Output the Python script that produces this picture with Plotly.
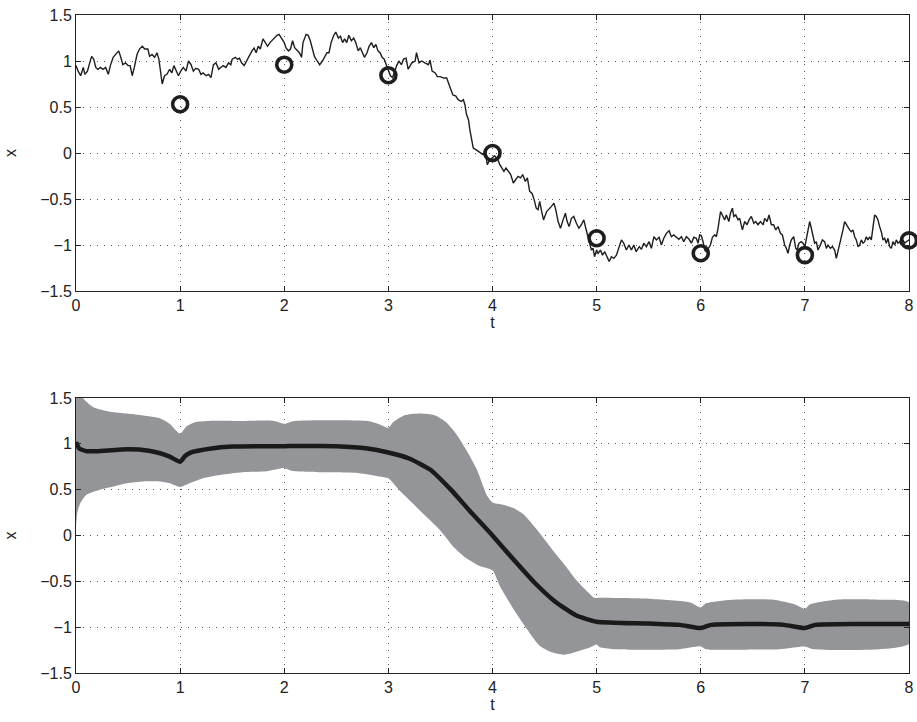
import plotly.graph_objects as go
from plotly.subplots import make_subplots

# ---------------- data ----------------
# noisy trajectory (top panel), read off in segments
path_t_a = [0, .02, .045, .07, .085, .11, .127, .15, .17, .19, .21, .235, .26, .285, .31, .33, .357, .38, .41, .43,
            .45, .475, .5, .52, .54, .56, .586, .61, .637, .66, .69, .707, .73, .755, .777, .796, .81, .828, .85, .873,
            .9, .92, .94, .96, .984, 1.006, 1.03, 1.057, 1.08, 1.105, 1.127, 1.15, 1.178, 1.2, 1.22, 1.25, 1.274, 1.296,
            1.32, 1.344, 1.37, 1.39, 1.414, 1.44, 1.465, 1.487, 1.5, 1.53, 1.55, 1.57, 1.59, 1.615, 1.637, 1.66, 1.69,
            1.71, 1.73, 1.75, 1.77, 1.796, 1.815, 1.84]
path_x_a = [.95, .89, .84, .93, .855, .89, .96, 1.05, 1.02, .93, .91, .93, .91, .93, .855, .95, 1.04, 1.07, 1.11, 1.04,
            .96, .98, .95, .95, .84, .93, 1.07, 1.13, 1.16, 1.13, 1.13, 1.05, 1.07, 1.04, 1.09, 1.02, .89, .75, .84, .855,
            .91, .87, .95, .89, .84, .89, .93, .89, 1.0, .96, .89, .92, .91, .855, .87, .84, .855, .82,
            .96, .98, .91, .93, .95, .93, .98, .96, 1.02, 1.04, 1.02, 1.03, .98, .95, 1.0, 1.04, 1.11,
            1.14, 1.09, 1.16, 1.13, 1.24, 1.2, 1.16]
path_t_b = [1.863, 1.895, 1.93, 1.95, 1.975, 2.0, 2.016, 2.04, 2.06, 2.08, 2.1, 2.125, 2.145, 2.166, 2.18, 2.21, 2.23,
            2.25, 2.27, 2.29, 2.316, 2.34, 2.367, 2.39, 2.41, 2.43, 2.45, 2.476, 2.495, 2.52, 2.54, 2.56, 2.58, 2.6,
            2.62, 2.645, 2.667, 2.687, 2.71, 2.73, 2.75, 2.77, 2.795, 2.815, 2.837, 2.86, 2.88, 2.9, 2.92, 2.94, 2.96,
            2.98, 3.0, 3.02, 3.04, 3.06, 3.08, 3.1, 3.125, 3.146]
path_x_b = [1.2, 1.24, 1.28, 1.29, 1.25, 1.2, 1.145, 1.11, 1.13, 1.22, 1.145, 1.11, 1.09, 1.04, 1.2, 1.29, 1.28,
            1.22, 1.13, 1.05, 1.0, .96, 1.0, 1.05, 1.09, 1.09, 1.2, 1.28, 1.315, 1.25, 1.27, 1.2, 1.24, 1.2,
            1.28, 1.22, 1.25, 1.2, 1.11, 1.145, 1.09, 1.04, 1.09, 1.16, 1.2, 1.145, 1.18, 1.11, 1.09, 1.04, 1.02,
            .96, .89, .84, .82, .89, .95, 1.0, .96, 1.02]
path_t_c = [3.17, 3.19, 3.225, 3.257, 3.27, 3.295, 3.32, 3.35, 3.385, 3.4, 3.42, 3.45, 3.47, 3.5, 3.53, 3.56, 3.575,
            3.6, 3.62, 3.646, 3.67, 3.7, 3.72, 3.735, 3.75, 3.77, 3.78, 3.8, 3.815, 3.84, 3.86, 3.89, 3.91, 3.93, 3.95,
            3.975, 4.0, 4.02, 4.05, 4.07, 4.09, 4.11, 4.13, 4.156, 4.175, 4.2, 4.22, 4.245, 4.27, 4.29, 4.315, 4.335,
            4.357, 4.38, 4.4, 4.42, 4.437, 4.453, 4.475]
path_x_c = [1.03, .91, .98, 1.0, 1.09, .98, 1.0, .98, .96, 1.01, .89, .87, .83, .83, .815, .815, .76,
            .69, .63, .62, .58, .56, .58, .525, .42, .36, .27, .16, .054, .036, .018, 0, -.018, .018, -.127,
            -.07, -.054, -.03, -.07, -.127, -.163, -.2, -.163, -.2, -.235, -.326, -.29, -.254, -.27, -.235, -.31, -.27,
            -.417, -.44, -.507, -.6, -.616, -.525, -.65]
path_t_d = [4.49, 4.52, 4.544, 4.566, 4.59, 4.608, 4.63, 4.653, 4.678, 4.7, 4.717, 4.736, 4.758, 4.78, 4.806, 4.83,
            4.854, 4.877, 4.896, 4.918, 4.934, 4.95, 4.966, 4.98, 5.0, 5.014, 5.037, 5.056, 5.078, 5.1, 5.12, 5.142,
            5.165, 5.19, 5.216, 5.238, 5.26, 5.286, 5.31, 5.334, 5.357, 5.38, 5.41, 5.43, 5.453, 5.478, 5.504, 5.526,
            5.55, 5.574, 5.6, 5.622, 5.645, 5.67, 5.696, 5.718, 5.74, 5.766, 5.79, 5.814, 5.837, 5.862, 5.888, 5.91,
            5.933, 5.958, 5.974, 5.99]
path_x_d = [-.727, -.636, -.6, -.58, -.545, -.618, -.745, -.818, -.727, -.655, -.745, -.8, -.71, -.69, -.764, -.818,
            -.78, -.727, -.818, -.91, -.98, -1.055, -1.036, -1.127, -1.055, -1.09, -1.055, -1.11, -1.073, -1.127, -1.18, -1.127,
            -1.145, -1.11, -1.018, -.945, -.98, -1.055, -1.0, -1.055, -1.0, -1.073, -1.018, -1.047, -.98, -1.018, -.964, -1.036,
            -.91, -.945, -.916, -1.0, -.927, -.873, -.844, -.91, -.89, -.916, -.938, -.91, -.964, -.91, -.938, -.98,
            -.916, -.927, -.98, -.89]
path_t_e = [6.006, 6.022, 6.038, 6.054, 6.07, 6.093, 6.112, 6.134, 6.15, 6.166, 6.19, 6.208, 6.23, 6.246, 6.27,
            6.285, 6.304, 6.317, 6.336, 6.358, 6.374, 6.4, 6.422, 6.445, 6.464, 6.486, 6.51, 6.528, 6.55, 6.573,
            6.6, 6.614, 6.637, 6.656, 6.678, 6.7, 6.72, 6.742, 6.765, 6.784, 6.806, 6.822, 6.838, 6.854, 6.87,
            6.893, 6.912, 6.925, 6.944, 6.966, 6.982, 7.0, 7.014, 7.03, 7.046, 7.062, 7.078, 7.094, 7.11, 7.126,
            7.142, 7.168, 7.19, 7.206, 7.222, 7.245, 7.264, 7.286, 7.302, 7.318, 7.334, 7.35, 7.366, 7.382, 7.398,
            7.414, 7.43, 7.446, 7.462, 7.478, 7.494, 7.51, 7.526, 7.542, 7.558, 7.574, 7.59, 7.606, 7.622, 7.638,
            7.654, 7.67, 7.686, 7.702, 7.718, 7.734, 7.75, 7.766, 7.782, 7.798, 7.814, 7.83, 7.846, 7.862, 7.878,
            7.894, 7.91, 7.926, 7.942, 7.958, 7.974, 8.0]
path_x_e = [-.9, -.964, -1.055, -1.073, -1.036, -1.0, -.916, -.89, -.91, -.818, -.636, -.673, -.727, -.673, -.745,
            -.655, -.6, -.69, -.673, -.727, -.71, -.836, -.745, -.78, -.727, -.69, -.764, -.745, -.78, -.745,
            -.78, -.71, -.745, -.673, -.78, -.78, -.836, -.8, -.873, -.89, -1.0, -1.036, -1.09, -1.0, -.945,
            -.91, -1.036, -1.055, -.98, -.964, -.98, -1.018, -.945, -.836, -.745, -.818, -.91, -.98, -.964, -1.055,
            -1.018, -.945, -.964, -1.036, -1.0, -1.036, -1.018, -1.055, -1.145, -1.073, -1.0, -.927, -.836, -.745, -.78,
            -.818, -.836, -.855, -.836, -.91, -.945, -1.018, -1.0, -.945, -.98, -.964, -.91, -.945, -.91, -.945,
            -.78, -.673, -.69, -.727, -.8, -.855, -.945, -.927, -.98, -.927, -1.018, -1.036, -.964, -1.0, -.945,
            -.98, -.964, -1.0, -.945, -.98, -.964, -.945]

# observations (circles)
obs_t = [1, 2, 3, 4, 5, 6, 7, 8]
obs_x = [0.53, 0.96, 0.845, 0.0, -0.927, -1.09, -1.11, -0.95]

# posterior mean and band (bottom panel)
mean_t = [0, 0.03, 0.1, 0.2, 0.5, 0.7, 0.8, 0.9, 1.0, 1.05, 1.1, 1.3, 1.5, 2.0, 2.5, 2.8, 3.0, 3.2, 3.4, 3.6,
          3.8, 4.0, 4.2, 4.4, 4.6, 4.8, 5.0, 5.5, 5.8, 6.0, 6.1, 6.5, 6.8, 7.0, 7.1, 7.5, 8.0]
mean_x = [1.02, .95, .92, .92, .94, .925, .9, .86, .805, .87, .905, .95, .97, .975, .975, .95, .905, .84, .72, .5,
          .245, 0, -.26, -.51, -.72, -.87, -.94, -.96, -.975, -1.01, -.975, -.965, -.975, -1.01, -.975, -.965, -.965]
upper_t = [0, .086, .166, .33, .49, .645, .805, .9, 1.0, 1.06, 1.16, 1.28, 1.5, 1.9, 2.0, 2.1, 2.8, 2.9, 3.0, 3.05,
           3.15, 3.3, 3.45, 3.55, 3.65, 3.75, 3.85, 3.95, 4.0, 4.1, 4.2, 4.3, 4.4, 4.5, 4.6, 4.7, 4.8, 4.9, 4.98, 5.05,
           5.5, 5.9, 6.0, 6.05, 6.3, 6.7, 6.9, 7.0, 7.05, 7.3, 7.7, 8.0]
upper_x = [1.6, 1.475, 1.4, 1.35, 1.33, 1.31, 1.28, 1.22, 1.11, 1.19, 1.24, 1.25, 1.25, 1.25, 1.22, 1.25, 1.25, 1.22, 1.175, 1.24,
           1.31, 1.33, 1.31, 1.24, 1.11, .93, .72, .43, .36, .336, .3, .23, .1, -.043, -.19, -.33, -.48, -.6, -.68, -.68,
           -.69, -.73, -.785, -.74, -.7, -.7, -.75, -.8, -.75, -.7, -.7, -.73]
lower_t = [0, .013, .04, .1, .23, .36, .49, .645, .8, .9, 1.0, 1.09, 1.22, 1.38, 1.6, 1.83, 2.0, 2.08, 2.4, 2.72,
           2.91, 3.0, 3.1, 3.23, 3.36, 3.49, 3.62, 3.74, 3.87, 4.0, 4.07, 4.2, 4.33, 4.45, 4.55, 4.68, 4.8, 4.94, 5.0, 5.03,
           5.16, 5.48, 5.8, 6.0, 6.05, 6.44, 6.76, 7.0, 7.08, 7.72, 8.0]
lower_x = [.1, .25, .35, .445, .5, .535, .57, .59, .59, .57, .53, .57, .625, .66, .69, .7, .735, .705, .69, .68,
           .645, .625, .5, .355, .21, .065, -.116, -.24, -.33, -.38, -.55, -.8, -1.02, -1.2, -1.265, -1.3, -1.27, -1.22, -1.19, -1.22,
           -1.24, -1.245, -1.24, -1.21, -1.24, -1.245, -1.24, -1.21, -1.24, -1.24, -1.18]

x_ticks = [0, 1, 2, 3, 4, 5, 6, 7, 8]
y_ticks = [-1.5, -1, -0.5, 0, 0.5, 1, 1.5]
y_tick_labels = ["\u22121.5", "\u22121", "\u22120.5", "0", "0.5", "1", "1.5"]

path_t = path_t_a + path_t_b + path_t_c + path_t_d + path_t_e
path_x = path_x_a + path_x_b + path_x_c + path_x_d + path_x_e
assert len(path_t) == len(path_x)
assert len(mean_t) == len(mean_x) and len(upper_t) == len(upper_x) and len(lower_t) == len(lower_x)

# ---------------- figure ----------------
fig = make_subplots(rows=2, cols=1, vertical_spacing=0.16)

fig.add_trace(go.Scatter(x=path_t, y=path_x, mode="lines",
                         line=dict(color="#1e1e1e", width=1.4), showlegend=False), row=1, col=1)
fig.add_trace(go.Scatter(x=obs_t, y=obs_x, mode="markers",
                         marker=dict(symbol="circle-open", size=15, color="#1e1e1e", line=dict(width=3.6)),
                         cliponaxis=False, showlegend=False), row=1, col=1)

band_t = upper_t + lower_t[::-1]
band_x = upper_x + lower_x[::-1]
fig.add_trace(go.Scatter(x=band_t, y=band_x, mode="lines", fill="toself",
                         fillcolor="#949598", line=dict(width=0, color="#949598", shape="spline", smoothing=0.6),
                         showlegend=False), row=2, col=1)
fig.add_trace(go.Scatter(x=mean_t, y=mean_x, mode="lines",
                         line=dict(color="#1a1a1a", width=4.5, shape="spline", smoothing=0.5),
                         showlegend=False), row=2, col=1)

font = dict(family="Liberation Sans, Arial, sans-serif", size=16, color="#222")
axis_common = dict(showline=True, linecolor="#222", linewidth=1, mirror="allticks",
                   ticks="inside", ticklen=5, tickcolor="#222",
                   showgrid=True, gridcolor="#555", gridwidth=1, griddash="1px,6px",
                   zeroline=False, tickfont=font, automargin=False)

for r in (1, 2):
    fig.update_xaxes(range=[0, 8], tickvals=x_ticks, ticktext=[str(v) for v in x_ticks],
                     title=dict(text="t", font=font, standoff=0), row=r, col=1, **axis_common)
    fig.update_yaxes(range=[-1.5, 1.5], tickvals=y_ticks, ticktext=y_tick_labels,
                     title=dict(text="x", font=font, standoff=19), row=r, col=1, **axis_common)

fig.update_layout(
    width=917, height=722,
    margin=dict(l=76, r=8, t=15, b=49),
    plot_bgcolor="white", paper_bgcolor="white",
    font=font, showlegend=False, hovermode=False,
)
fig.layout.yaxis.domain = [1 - 276 / 658, 1]
fig.layout.yaxis2.domain = [0, 275 / 658]

fig.write_html("out.html", config={"displayModeBar": False, "staticPlot": True},
               post_script="document.body.style.margin='0';document.body.style.overflow='hidden';")
